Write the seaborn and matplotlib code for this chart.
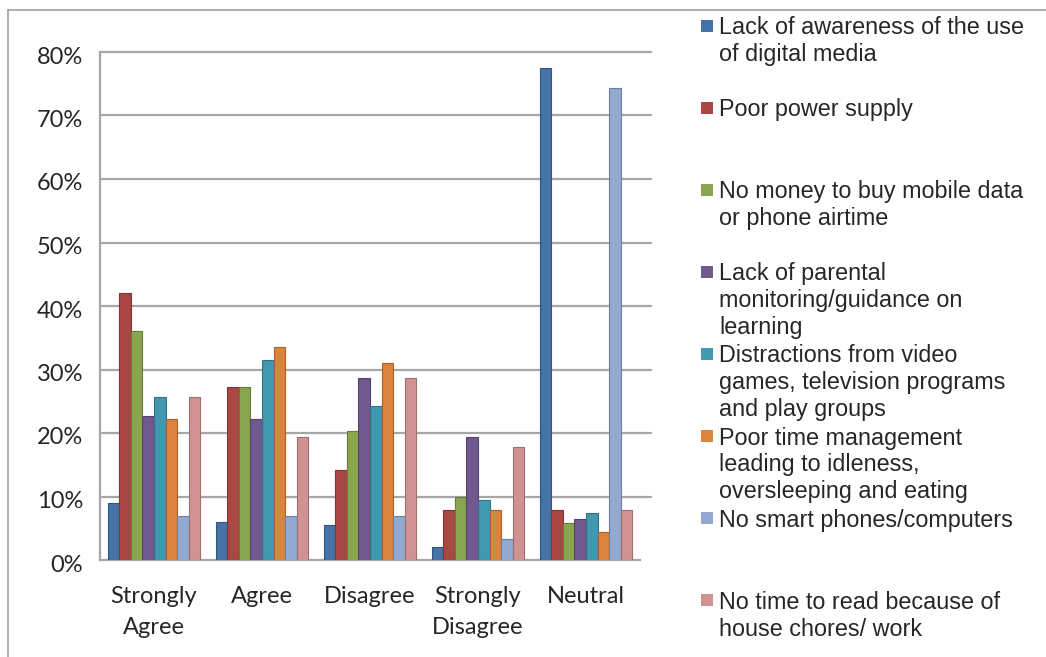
import numpy as np
import pandas as pd
import seaborn as sns
import matplotlib.pyplot as plt
import matplotlib.transforms as mtransforms
from matplotlib.lines import Line2D
from matplotlib.patches import Rectangle
from matplotlib.ticker import PercentFormatter

categories = ["Strongly\nAgree", "Agree", "Disagree", "Strongly\nDisagree", "Neutral"]
series_names = [
    "Lack of awareness of the use\nof digital media",
    "Poor power supply",
    "No money to buy mobile data\nor phone airtime",
    "Lack of parental\nmonitoring/guidance on\nlearning",
    "Distractions from video\ngames, television programs\nand play groups",
    "Poor time management\nleading to idleness,\noversleeping and eating",
    "No smart phones/computers",
    "No time to read because of\nhouse chores/ work",
]
awareness = [0.09, 0.06, 0.055, 0.02, 0.775]
power = [0.42, 0.272, 0.142, 0.079, 0.079]
money = [0.36, 0.272, 0.203, 0.099, 0.058]
parental = [0.226, 0.222, 0.286, 0.193, 0.064]
distractions = [0.256, 0.315, 0.242, 0.094, 0.074]
time_mgmt = [0.222, 0.336, 0.311, 0.079, 0.044]
no_phones = [0.069, 0.069, 0.069, 0.033, 0.744]
chores = [0.256, 0.193, 0.286, 0.178, 0.079]

colors = ["#4572A7", "#AA4643", "#89A54E", "#71588F",
          "#4198AF", "#DB843D", "#93A9CF", "#D19392"]

all_series = [awareness, power, money, parental, distractions, time_mgmt, no_phones, chores]
rows = []
for name, vals in zip(series_names, all_series):
    for cat, v in zip(categories, vals):
        rows.append({"Response": cat, "Reason": name, "Share": v})
df = pd.DataFrame(rows)

sns.set_style("white")
plt.rcParams["font.family"] = ["Lato", "DejaVu Sans"]

W, H = 1046, 657
fig = plt.figure(figsize=(W / 100, H / 100), dpi=100)
ax = fig.add_axes([100 / W, (H - 560) / H, 540 / W, 508 / H])

sns.barplot(data=df, x="Response", y="Share", hue="Reason", palette=colors,
            width=0.86, saturation=1, ax=ax, legend=False, zorder=3)

# darker edge to hint at the 3d look of the original
for patch in ax.patches:
    patch.set_edgecolor(tuple(c * 0.75 for c in patch.get_facecolor()[:3]))
    patch.set_linewidth(0.8)

ax.set_ylim(0, 0.8)
ax.set_xlim(-0.5, 4.5)
ax.set_yticks(np.arange(0, 0.81, 0.1))
ax.yaxis.set_major_formatter(PercentFormatter(1.0, decimals=0))
for y in np.arange(0.1, 0.81, 0.1):
    ax.axhline(y, xmin=0, xmax=1.02, color="#a6a6a6", lw=1.6, zorder=1, clip_on=False)
ax.set_xlabel("")
ax.set_ylabel("")
for s in ["top", "right"]:
    ax.spines[s].set_visible(False)
for s in ["left", "bottom"]:
    ax.spines[s].set_color("#a6a6a6")
    ax.spines[s].set_linewidth(1.6)

ax.set_xticks(np.arange(-0.5, 5, 1), minor=False)
ax.set_xticklabels([])
ax.set_xticks(np.arange(0, 5), minor=True)
ax.set_xticklabels(categories, minor=True, fontsize=17, linespacing=1.55)
ax.tick_params(axis="x", which="major", length=8, width=1.4, color="#a6a6a6", direction="out")
ax.tick_params(axis="x", which="minor", length=0, pad=19)
ax.tick_params(axis="y", length=6, width=1.4, color="#a6a6a6", labelsize=17, pad=6)
shift = mtransforms.ScaledTranslation(0, -3 / 100, fig.dpi_scale_trans)
for lab in ax.get_yticklabels():
    lab.set_transform(lab.get_transform() + shift)

# legend drawn as fixed slots like the original
for i, (name, col) in enumerate(zip(series_names, colors)):
    yc = 25.5 + 82.1 * i
    fig.patches.append(Rectangle((701 / W, 1 - (yc + 6) / H), 12 / W, 12 / H,
                                 transform=fig.transFigure, facecolor=col,
                                 edgecolor="none"))
    fig.text(719 / W, 1 - (yc - 9.5) / H, name, fontsize=16.8, va="top", ha="left",
             family=["Liberation Sans", "DejaVu Sans"], linespacing=1.22)

# chart-area border
fig.lines.append(Line2D([8 / W, 8 / W], [0, 1 - 10 / H], transform=fig.transFigure,
                        color="#a0a0a0", lw=1.2))
fig.lines.append(Line2D([8 / W, 1], [1 - 10 / H, 1 - 10 / H], transform=fig.transFigure,
                        color="#a0a0a0", lw=1.2))

fig.savefig("out.png", dpi=100)
